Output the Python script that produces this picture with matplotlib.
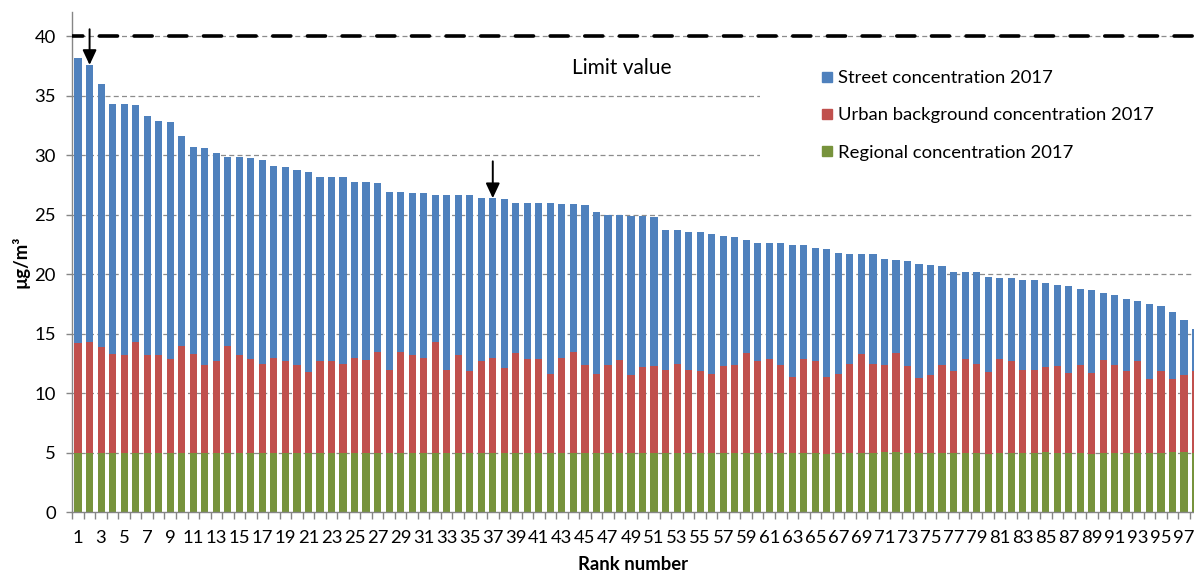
import matplotlib.pyplot as plt
import numpy as np
from matplotlib.patches import Rectangle
from matplotlib.lines import Line2D

# Rank 1..98 (last bar is cut off at the right edge)
street_2017 = [38.2, 37.6, 36.0, 34.3, 34.3, 34.2, 33.3, 32.9, 32.8, 31.6,
               30.7, 30.6, 30.2, 29.9, 29.9, 29.8, 29.6, 29.1, 29.0, 28.8,
               28.6, 28.2, 28.2, 28.2, 27.8, 27.8, 27.7, 26.9, 26.9, 26.8,
               26.8, 26.7, 26.7, 26.7, 26.7, 26.4, 26.4, 26.3, 26.0, 26.0,
               26.0, 26.0, 25.9, 25.9, 25.8, 25.2, 25.0, 25.0, 24.9, 24.9,
               24.8, 23.7, 23.7, 23.6, 23.6, 23.4, 23.2, 23.1, 22.9, 22.6,
               22.6, 22.6, 22.5, 22.5, 22.2, 22.1, 21.8, 21.7, 21.7, 21.7,
               21.3, 21.2, 21.1, 20.9, 20.8, 20.7, 20.2, 20.2, 20.2, 19.8,
               19.7, 19.7, 19.5, 19.5, 19.3, 19.1, 19.0, 18.8, 18.7, 18.4,
               18.3, 17.9, 17.8, 17.5, 17.3, 16.8, 16.2, 15.4]

urban_2017 = [14.2, 14.3, 13.9, 13.3, 13.2, 14.3, 13.2, 13.2, 12.9, 14.0,
              13.3, 12.4, 12.7, 14.0, 13.2, 12.9, 12.5, 13.0, 12.7, 12.4,
              11.8, 12.7, 12.7, 12.5, 13.0, 12.8, 13.5, 12.0, 13.5, 13.2,
              13.0, 14.3, 12.0, 13.2, 11.9, 12.7, 13.0, 12.1, 13.4, 12.9,
              12.9, 11.6, 13.0, 13.5, 12.4, 11.6, 12.4, 12.8, 11.5, 12.2,
              12.3, 12.0, 12.5, 12.0, 11.9, 11.6, 12.3, 12.4, 13.4, 12.7,
              12.9, 12.4, 11.4, 12.9, 12.7, 11.4, 11.6, 12.5, 13.3, 12.5,
              12.4, 13.4, 12.3, 11.3, 11.5, 12.4, 11.9, 12.9, 12.5, 11.8,
              12.9, 12.7, 12.0, 12.0, 12.2, 12.3, 11.7, 12.4, 11.7, 12.8,
              12.4, 11.9, 12.7, 11.2, 11.9, 11.2, 11.5, 11.9]

regional_2017 = [5.0, 5.0, 5.0, 5.0, 5.0, 5.0, 5.0, 5.0, 5.0, 5.0,
                 5.0, 5.0, 5.0, 5.0, 5.0, 5.0, 5.0, 5.0, 5.0, 5.0,
                 5.0, 5.0, 5.0, 5.0, 5.0, 5.0, 5.0, 5.0, 5.0, 5.0,
                 5.0, 5.0, 5.0, 5.0, 5.0, 5.0, 5.0, 5.0, 5.0, 5.0,
                 5.0, 5.0, 5.0, 5.0, 5.0, 5.0, 5.0, 5.0, 5.0, 5.0,
                 5.0, 5.0, 5.0, 5.0, 5.0, 5.0, 5.0, 5.0, 5.0, 5.0,
                 5.0, 5.0, 5.0, 5.0, 5.0, 4.9, 5.0, 5.0, 5.0, 5.0,
                 5.1, 5.1, 5.0, 5.0, 5.0, 5.0, 5.0, 5.0, 5.0, 4.9,
                 5.0, 5.0, 5.0, 5.0, 5.1, 5.0, 5.0, 5.0, 4.9, 5.0,
                 5.0, 5.0, 5.0, 5.0, 5.0, 5.1, 5.1, 5.0]

limit_value = 40
marked_ranks = [2, 37]   # stations pointed out with arrows
series_labels = ['Street concentration 2017',
                 'Urban background concentration 2017',
                 'Regional concentration 2017']

BLUE = '#4F81BD'
RED = '#C0504D'
GREEN = '#77933C'
GRID = '#8C8C8C'
AXIS = '#868686'
FS = 13.3

plt.rcParams['font.family'] = ['Lato', 'DejaVu Sans']

W, H = 1194, 574
fig = plt.figure(figsize=(W / 100, H / 100), dpi=100)
# axes box in pixels: left 72, right edge of image, y from 12 to 512
ax = fig.add_axes([72.3 / W, (H - 512.3) / H, 1 - 72.3 / W, 500.3 / H])

ranks = np.arange(1, len(street_2017) + 1)
street = np.array(street_2017)
urban = np.array(urban_2017)
regional = np.array(regional_2017)

width = 0.62
ax.bar(ranks, regional, width, color=GREEN, zorder=2)
ax.bar(ranks, urban - regional, width, bottom=regional, color=RED, zorder=2)
ax.bar(ranks, street - urban, width, bottom=urban, color=BLUE, zorder=2)

ax.set_xlim(0.5, 0.5 + (W - 72.3) / 11.52)
ax.set_ylim(0, 42.05)

# gridlines (dashed grey), behind bars
for y in range(5, 41, 5):
    ax.axhline(y, color=GRID, lw=0.9, ls=(0, (4, 2.6)), zorder=0.5)

# limit value line
ax.axhline(limit_value, color='black', lw=2.6, ls=(2.0, (5.0, 4.6)),
           dash_capstyle='round', zorder=3)
fig.text(622 / W, 1 - 68 / H, 'Limit value', fontsize=15,
         ha='center', va='center')

# white box behind the legend hides the grid lines there
legend_box = Rectangle((760 / W, 1 - 182 / H), 1 - 760 / W, 130 / H,
                       transform=fig.transFigure,
                       facecolor='white', edgecolor='none', zorder=1)
ax.add_artist(legend_box)

handles = [Line2D([], [], marker='s', ls='none', markersize=7.5,
                  markerfacecolor=c, markeredgecolor=c)
           for c in (BLUE, RED, GREEN)]
leg = ax.legend(handles, series_labels, loc='upper left',
                bbox_to_anchor=(810 / W, (H - 61) / H),
                bbox_transform=fig.transFigure, frameon=False,
                fontsize=FS, handlelength=0.8, handletextpad=0.2,
                labelspacing=1.15, borderpad=0)

# arrows pointing at marked stations
arrow_tail = {2: 40.6, 37: 29.5}
for r in marked_ranks:
    ax.annotate('', xy=(r, street[r - 1]), xytext=(r, arrow_tail[r]),
                arrowprops=dict(arrowstyle='-|>,head_length=0.9,head_width=0.42',
                                color='black', lw=1.4, shrinkA=0, shrinkB=0),
                zorder=4)

# axes styling
for side in ('top', 'right'):
    ax.spines[side].set_visible(False)
ax.spines['left'].set_color(AXIS)
ax.spines['bottom'].set_color(AXIS)
ax.spines['left'].set_linewidth(1.0)
ax.spines['bottom'].set_linewidth(1.0)

ax.set_yticks(range(0, 41, 5))
ax.tick_params(axis='y', direction='out', length=4, width=1.0, color=AXIS,
               labelsize=FS, pad=8)

# category boundaries get tick marks, every other rank is labelled
ax.set_xticks(np.arange(0.5, len(ranks) + 0.5, 1.0))
ax.set_xticklabels([])
ax.set_xticks(ranks[::2], minor=True)
ax.set_xticklabels([str(r) for r in ranks[::2]], minor=True)
ax.tick_params(axis='x', which='major', direction='out', length=5, width=1.0,
               color=AXIS)
ax.tick_params(axis='x', which='minor', length=0, labelsize=FS, pad=13)

ax.set_ylabel('µg/m³', fontsize=FS, fontweight='bold', labelpad=3)
ax.set_xlabel('Rank number', fontsize=FS, fontweight='bold', labelpad=7)

plt.savefig('out.png', dpi=100)
plt.close()
